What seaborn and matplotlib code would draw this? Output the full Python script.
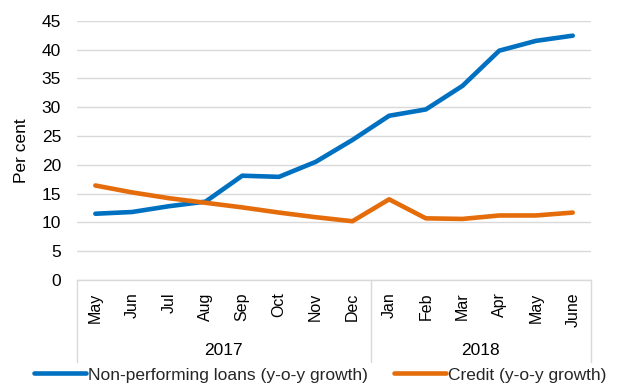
import matplotlib
matplotlib.use("Agg")
import matplotlib.pyplot as plt
import matplotlib.transforms as mtransforms
import seaborn as sns
import pandas as pd

months = ["May", "Jun", "Jul", "Aug", "Sep", "Oct", "Nov", "Dec",
          "Jan", "Feb", "Mar", "Apr", "May", "June"]
years = ["2017", "2018"]
year_lengths = [8, 6]
npl_growth = [11.5, 11.8, 12.8, 13.6, 18.1, 17.9, 20.5, 24.3,
              28.5, 29.6, 33.7, 39.8, 41.5, 42.4]
credit_growth = [16.4, 15.2, 14.2, 13.4, 12.6, 11.7, 10.9, 10.2,
                 14.0, 10.7, 10.6, 11.2, 11.2, 11.7]
series_names = ["Non-performing loans (y-o-y growth)", "Credit (y-o-y growth)"]
colors = ["#0070C0", "#E46C0A"]

sns.set_theme(style="white")
plt.rcParams["font.family"] = ["Liberation Sans", "DejaVu Sans"]

df = pd.DataFrame({
    "pos": list(range(len(months))) * 2,
    "value": npl_growth + credit_growth,
    "series": [series_names[0]] * len(months) + [series_names[1]] * len(months),
})

fig = plt.figure(figsize=(6.17, 3.86), dpi=100)
ax = fig.add_axes([0.1248, 0.2746, 0.958 - 0.1248, 0.9464 - 0.2746])

sns.lineplot(data=df, x="pos", y="value", hue="series", hue_order=series_names,
             palette=colors, linewidth=3.3, ax=ax, legend=True)

ax.set_xlim(-0.5, len(months) - 0.5)
ax.set_ylim(0, 45)
ax.set_yticks(range(0, 46, 5))
ax.yaxis.grid(True, color="#D9D9D9", linewidth=1.0)
ax.xaxis.grid(False)
for side in ["left", "right", "top"]:
    ax.spines[side].set_visible(False)
ax.spines["bottom"].set_color("#D9D9D9")
ax.spines["bottom"].set_linewidth(1.0)

ax.set_xticks(range(len(months)))
ax.set_xticklabels(months, rotation=90, fontsize=11.5, color="#000000")
ax.tick_params(axis="x", length=0, pad=9)
ax.tick_params(axis="y", length=0, pad=11.5, labelsize=12.5, labelcolor="#000000")
ax.set_xlabel("")
ax.set_ylabel("Per cent", fontsize=12.5, color="#000000")
ax.yaxis.set_label_coords(-0.093, 0.5)

# Year group separators and labels under the month axis
trans = mtransforms.blended_transform_factory(ax.transData, ax.transAxes)
edges = [-0.5]
for n in year_lengths:
    edges.append(edges[-1] + n)
for e in edges:
    ax.plot([e, e], [0, -0.316], transform=trans, color="#D9D9D9",
            linewidth=1.0, clip_on=False)
for i, yr in enumerate(years):
    center = (edges[i] + edges[i + 1]) / 2
    ax.text(center, -0.27, yr, transform=trans, ha="center", va="center",
            fontsize=12.5, color="#000000")

handles, labels = ax.get_legend_handles_labels()
ax.get_legend().remove()
fig.legend(handles, labels, loc="center", bbox_to_anchor=(0.519, 0.0285),
           ncol=2, frameon=False, fontsize=12.5, handlelength=3.0,
           handletextpad=0.1, columnspacing=1.5, borderaxespad=0, borderpad=0)

fig.savefig("out.png", dpi=100)
